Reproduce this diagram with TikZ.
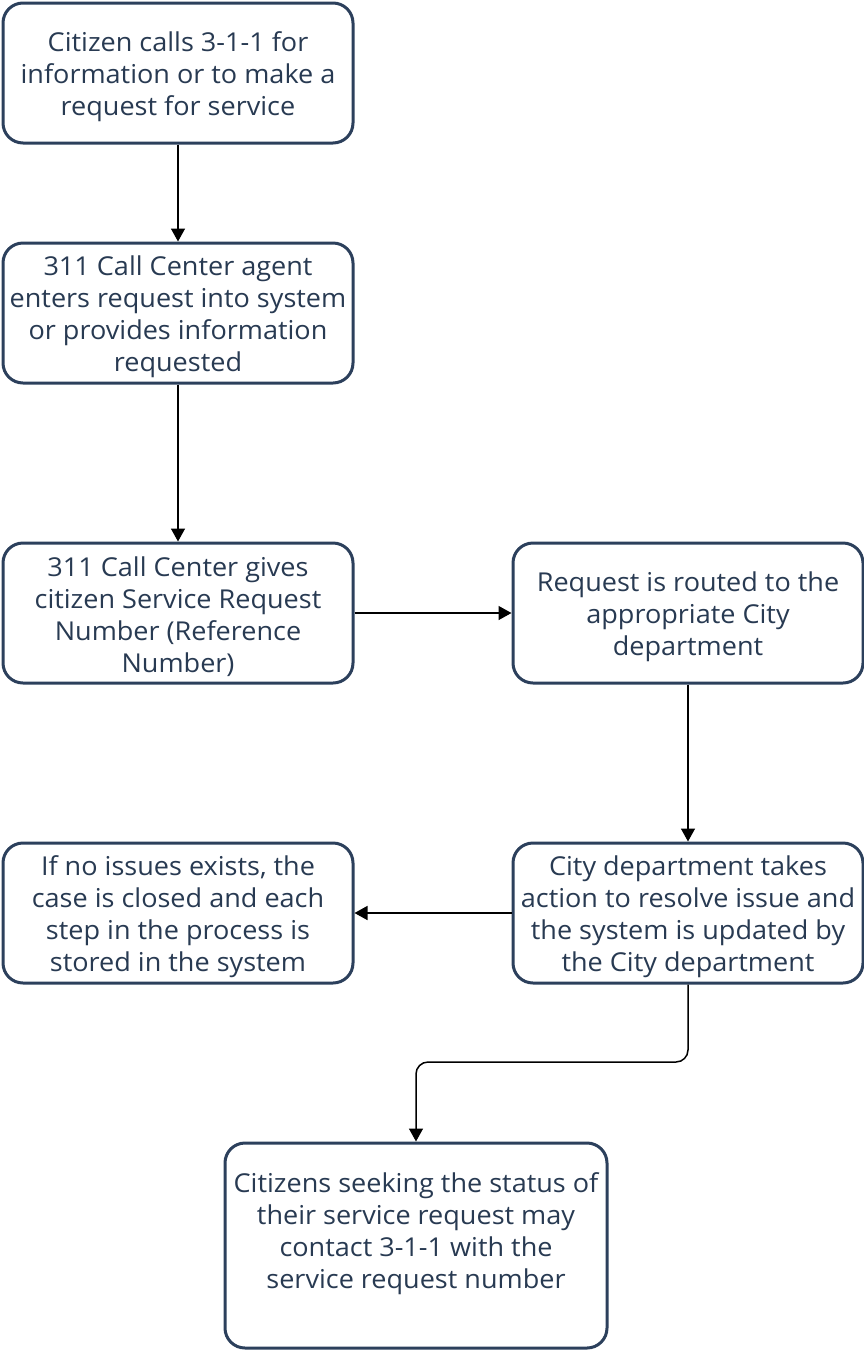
\documentclass[tikz,border=0pt]{standalone}
\usepackage{fontspec}
\setmainfont{Open Sans}[FakeStretch=1.04]
\usetikzlibrary{arrows.meta}
\definecolor{bordc}{RGB}{44,64,92}
\definecolor{txtc}{RGB}{40,58,82}
\begin{document}
\begin{tikzpicture}[x=1pt,y=-1pt,
  box/.style={draw=bordc,line width=3pt,rounded corners=20pt,fill=white,
    minimum width=350pt,minimum height=140pt},
  lbl/.style={text=txtc,align=center,inner sep=0pt,font=\fontsize{26}{32}\selectfont},
  conn/.style={draw=black,line width=1.5pt,-{Triangle[length=13pt,width=14pt]}}]
\useasboundingbox (0,0) rectangle (864,1350);
\node[box] (b1) at (178,73) {};
\node[box] (b2) at (178,313) {};
\node[box] (b3) at (178,613) {};
\node[box] (b4) at (688,613) {};
\node[box] (b5) at (688,913) {};
\node[box] (b6) at (178,913) {};
\node[box,minimum width=382pt,minimum height=205pt] (b7) at (416,1245.5) {};
\node[lbl] (t1) at ([yshift=-4pt]b1.center) {Citizen calls 3-1-1 for\\information or to make a\\request for service};
\node[lbl] (t2) at ([yshift=-4pt]b2.center) {311 Call Center agent\\enters request into system\\or provides information\\requested};
\node[lbl] (t3) at ([yshift=-4pt]b3.center) {311 Call Center gives\\citizen Service Request\\Number (Reference\\Number)};
\node[lbl] (t4) at ([yshift=-4pt]b4.center) {Request is routed to the\\appropriate City\\department};
\node[lbl] (t5) at ([yshift=-4pt]b5.center) {City department takes\\action to resolve issue and\\the system is updated by\\the City department};
\node[lbl] (t6) at ([yshift=-4pt]b6.center) {If no issues exists, the\\case is closed and each\\step in the process is\\stored in the system};
\node[lbl] (t7) at (416,1234) {Citizens seeking the status of\\their service request may\\contact 3-1-1 with the\\service request number};
\draw[conn] (b1.south) -- (b2.north);
\draw[conn] (b2.south) -- (b3.north);
\draw[conn] (b3.east) -- (b4.west);
\draw[conn] (b4.south) -- (b5.north);
\draw[conn] (b5.west) -- (b6.east);
\coordinate (m1) at (688,1062);
\coordinate (m2) at (416,1062);
\draw[conn,rounded corners=12pt] (b5.south) -- (m1) -- (m2) -- (b7.north);
\end{tikzpicture}
\end{document}
